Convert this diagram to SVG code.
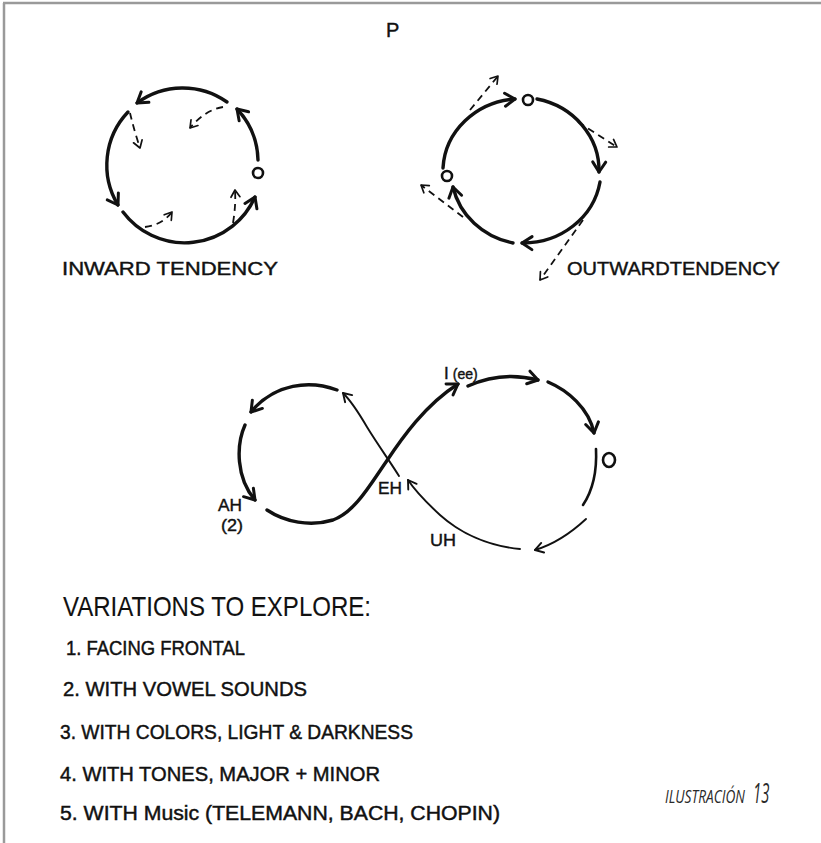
<svg xmlns="http://www.w3.org/2000/svg" width="821" height="843" viewBox="0 0 821 843">
<style>
.frame{stroke:#9a9a9a;stroke-width:2.5;fill:none}
.thick{fill:none;stroke:#111;stroke-width:3.4;stroke-linecap:round}
.med{fill:none;stroke:#111;stroke-width:2.6;stroke-linecap:round}
.thin{fill:none;stroke:#111;stroke-width:1.9;stroke-linecap:round}
.dash{fill:none;stroke:#111;stroke-width:1.8;stroke-dasharray:7 5}
.o{fill:none;stroke:#111;stroke-width:2.6}
.hand{font-family:"Liberation Sans","DejaVu Sans",sans-serif;fill:#111;stroke:#111;stroke-width:0.4}
.list{font-family:"Liberation Sans","DejaVu Sans",sans-serif;fill:#111;stroke:#111;stroke-width:0.45}
.head{font-family:"Liberation Sans","DejaVu Sans",sans-serif;fill:#111;stroke:#111;stroke-width:0.1}
.cap{font-family:"Open Sans","Lato",sans-serif;font-style:italic;fill:#2a2a2a}
</style>
<defs>
<marker id="ah" viewBox="-13 -8 15 16" refX="0" refY="0" markerWidth="15" markerHeight="16" markerUnits="userSpaceOnUse" orient="auto" overflow="visible">
<path d="M-10,-6.5 L0,0 L-10,6.5" fill="none" stroke="#111" stroke-width="3" stroke-linecap="round" stroke-linejoin="round"/>
</marker>
<marker id="at" viewBox="-10 -6 12 12" refX="0" refY="0" markerWidth="12" markerHeight="12" markerUnits="userSpaceOnUse" orient="auto" overflow="visible">
<path d="M-8,-5 L0,0 L-8,5" fill="none" stroke="#111" stroke-width="1.9" stroke-linecap="round" stroke-linejoin="round"/>
</marker>
<marker id="ad" viewBox="-9 -6 11 12" refX="0" refY="0" markerWidth="11" markerHeight="12" markerUnits="userSpaceOnUse" orient="auto" overflow="visible">
<path d="M-7,-4.5 L0,0 L-7,4.5" fill="none" stroke="#111" stroke-width="1.7" stroke-linecap="round" stroke-linejoin="round"/>
</marker>
</defs>
<rect width="821" height="843" fill="#fff"/>
<path class="frame" d="M3,3 H821 M4,3 V843"/>

<g id="title"><text class="hand" x="386" y="37" font-size="20">P</text></g>

<g id="inward">
<circle class="o" cx="258" cy="173" r="5"/>
<text class="hand" x="62" y="275" font-size="18" textLength="216" lengthAdjust="spacingAndGlyphs">INWARD TENDENCY</text>
</g>

<g id="outward">
<circle class="o" cx="528" cy="100" r="5"/>
<circle class="o" cx="447" cy="176" r="5"/>
<text class="hand" x="567" y="275" font-size="18" textLength="213" lengthAdjust="spacingAndGlyphs">OUTWARDTENDENCY</text>
</g>

<g id="eight-labels">
<text class="hand" x="444" y="379" font-size="17">I<tspan font-size="14" dx="4">(ee)</tspan></text>
<ellipse class="o" cx="609" cy="460" rx="6" ry="7"/>
<text class="hand" x="218" y="511" font-size="17" textLength="24" lengthAdjust="spacingAndGlyphs">AH</text>
<text class="hand" x="221" y="531" font-size="17" textLength="22" lengthAdjust="spacingAndGlyphs">(2)</text>
<text class="hand" x="378" y="494" font-size="17" textLength="24" lengthAdjust="spacingAndGlyphs">EH</text>
<text class="hand" x="430" y="546" font-size="17" textLength="26" lengthAdjust="spacingAndGlyphs">UH</text>
</g>

<g id="connectors">
<!-- inward circle -->
<path class="thick" d="M227,102 A77,77 0 0 0 137,103" marker-end="url(#ah)"/>
<path class="thick" d="M128,112 A77,77 0 0 0 118,205" marker-end="url(#ah)"/>
<path class="thick" d="M123,212 A77,77 0 0 0 255,197" marker-end="url(#ah)"/>
<path class="thick" d="M258,160 A77,77 0 0 0 237,109" marker-end="url(#ah)"/>
<path class="dash" d="M223,107 Q205,110 190,128" marker-end="url(#ad)"/>
<path class="dash" d="M130,113 Q134,130 140,148" marker-end="url(#ad)"/>
<path class="dash" d="M145,227 Q162,225 172,212" marker-end="url(#ad)"/>
<path class="dash" d="M233,223 Q236,205 235,190" marker-end="url(#ad)"/>
<!-- outward circle -->
<path class="thick" d="M443,168 A78,73 0 0 1 515,99" marker-end="url(#ah)"/>
<path class="thick" d="M537,99 A78,73 0 0 1 599,172" marker-end="url(#ah)"/>
<path class="thick" d="M600,182 A78,73 0 0 1 522,243" marker-end="url(#ah)"/>
<path class="thick" d="M513,243 A78,73 0 0 1 453,187" marker-end="url(#ah)"/>
<path class="dash" d="M470,110 L498,76" marker-end="url(#ad)"/>
<path class="dash" d="M578,122 L617,147" marker-end="url(#ad)"/>
<path class="dash" d="M583,220 L540,280" marker-end="url(#ad)"/>
<path class="dash" d="M463,217 L421,185" marker-end="url(#ad)"/>
<!-- figure eight -->
<path class="thick" d="M337,390 C310,380 275,383 251,412" marker-end="url(#ah)"/>
<path class="thick" d="M245,425 C236,445 236,478 255,500" marker-end="url(#ah)"/>
<path class="thick" stroke-width="3.8" d="M267,510 C285,522 310,527 333,520 C355,512 370,485 386,462 C402,438 425,405 458,384" marker-end="url(#ah)"/>
<path class="thin" d="M399,476 C391,463 378,445 367,427 C360,415 352,402 343,393" marker-end="url(#at)"/>
<path class="thick" stroke-width="3" d="M468,386 C490,376 515,374 538,380" marker-end="url(#ah)"/>
<path class="thick" stroke-width="3" d="M548,382 C567,390 589,408 594,433" marker-end="url(#ah)"/>
<path class="med" d="M596,449 C597,470 593,490 583,505"/>
<path class="thin" d="M586,519 C572,532 555,544 535,550" marker-end="url(#at)"/>
<path class="thin" d="M520,549 C488,546 460,533 440,515 C427,503 416,492 408,480" marker-end="url(#at)"/>
</g>

<g id="variations">
<text class="head" x="63" y="616" font-size="28" textLength="308" lengthAdjust="spacingAndGlyphs">VARIATIONS TO EXPLORE:</text>
<text class="list" x="66" y="655" font-size="20" textLength="179" lengthAdjust="spacingAndGlyphs">1. FACING FRONTAL</text>
<text class="list" x="63" y="696" font-size="20" textLength="244" lengthAdjust="spacingAndGlyphs">2. WITH VOWEL SOUNDS</text>
<text class="list" x="60" y="739" font-size="20" textLength="353" lengthAdjust="spacingAndGlyphs">3. WITH COLORS, LIGHT &amp; DARKNESS</text>
<text class="list" x="60" y="781" font-size="20" textLength="320" lengthAdjust="spacingAndGlyphs">4. WITH TONES, MAJOR + MINOR</text>
<text class="list" x="60" y="820" font-size="20" textLength="440" lengthAdjust="spacingAndGlyphs">5. WITH Music (TELEMANN, BACH, CHOPIN)</text>
</g>

<g id="caption">
<text class="cap" font-size="18" transform="translate(665,803) scale(0.76,1)">ILUSTRACIÓN</text>
<text class="cap" font-size="27" transform="translate(753,803) scale(0.55,1)">13</text>
</g>
</svg>
